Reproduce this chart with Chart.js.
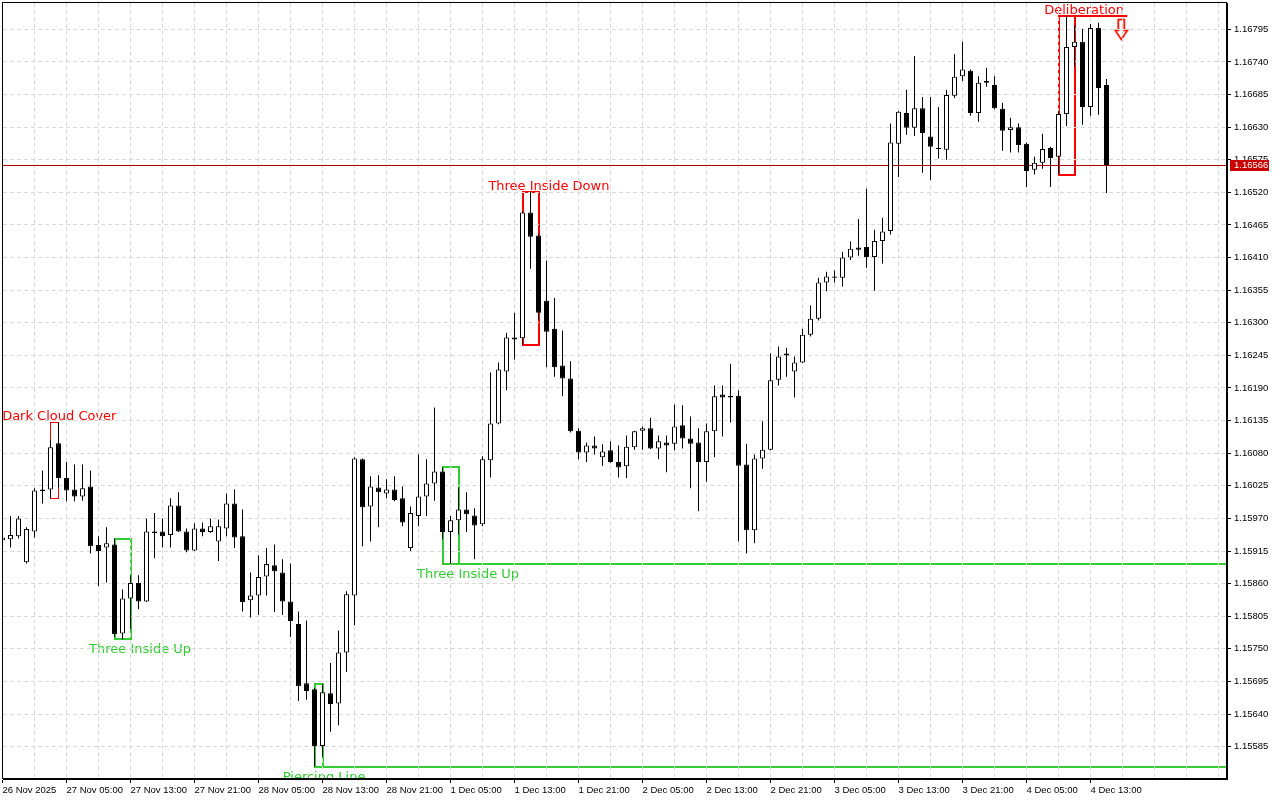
<!DOCTYPE html>
<html><head><meta charset="utf-8">
<script src="https://cdn.jsdelivr.net/npm/chart.js@4.4.1/dist/chart.umd.min.js"></script>
<style>html,body{margin:0;padding:0;background:#fff;overflow:hidden}canvas{display:block}</style>
</head><body>
<canvas id="c" width="1280" height="800"></canvas>
<script>
// ---- DATA (EURUSD H1, bar 0 = 26 Nov 21:00) ----
const opens = [1.15933,1.15935,1.15940,1.15896,1.15948,1.16019,1.16019,1.16097,1.16038,1.16019,
1.16007,1.16024,1.15925,1.15921,1.15926,1.15776,1.15835,1.15861,1.15830,1.15948,
1.15948,1.15942,1.15992,1.15948,1.15916,1.15953,1.15947,1.15931,1.15953,1.15995,
1.15940,1.15832,1.15840,1.15872,1.15891,1.15879,1.15830,1.15792,1.15692,1.15682,
1.15586,1.15675,1.15658,1.15744,1.15840,1.16070,1.15990,1.16022,1.16012,1.16019,
1.16004,1.15920,1.15974,1.16007,1.16029,1.16049,1.15947,1.15967,1.15985,1.15975,
1.15960,1.16068,1.16130,1.16218,1.16275,1.16274,1.16486,1.16447,1.16337,1.16290,
1.16228,1.16206,1.16118,1.16081,1.16093,1.16073,1.16085,1.16065,1.16058,1.16090,
1.16118,1.16122,1.16088,1.16098,1.16096,1.16127,1.16105,1.16098,1.16065,1.16117,
1.16179,1.16177,1.16177,1.16061,1.15950,1.16071,1.16086,1.16204,1.16245,1.16218,
1.16233,1.16280,1.16307,1.16368,1.16378,1.16376,1.16410,1.16427,1.16428,1.16411,
1.16438,1.16455,1.16602,1.16654,1.16629,1.16662,1.16614,1.16595,1.16592,1.16683,
1.16716,1.16725,1.16654,1.16708,1.16701,1.16661,1.16625,1.16630,1.16602,1.16558,
1.16570,1.16595,1.16580,1.16652,1.16765,1.16774,1.16664,1.16797,1.16701];
const highs = [1.15940,1.15974,1.15974,1.15955,1.16021,1.16051,1.16103,1.16132,1.16065,1.16061,
1.16061,1.16051,1.15940,1.15955,1.15936,1.15850,1.15874,1.15874,1.15970,1.15979,
1.15970,1.16004,1.16014,1.15953,1.15962,1.15963,1.15970,1.15968,1.16012,1.16019,
1.15985,1.15879,1.15908,1.15920,1.15926,1.15901,1.15894,1.15813,1.15798,1.15684,
1.15691,1.15726,1.15781,1.15847,1.16073,1.16071,1.16041,1.16043,1.16036,1.16041,
1.16024,1.15990,1.16078,1.16070,1.16157,1.16056,1.15974,1.16022,1.16014,1.15987,
1.16075,1.16216,1.16233,1.16283,1.16317,1.16488,1.16521,1.16450,1.16405,1.16342,
1.16287,1.16235,1.16122,1.16098,1.16108,1.16095,1.16100,1.16093,1.16110,1.16118,
1.16125,1.16140,1.16110,1.16110,1.16162,1.16161,1.16142,1.16122,1.16130,1.16194,
1.16194,1.16231,1.16186,1.16096,1.16078,1.16134,1.16248,1.16260,1.16258,1.16243,
1.16290,1.16329,1.16376,1.16386,1.16388,1.16420,1.16437,1.16475,1.16526,1.16457,
1.16477,1.16636,1.16657,1.16693,1.16750,1.16681,1.16681,1.16664,1.16693,1.16753,
1.16774,1.16727,1.16716,1.16730,1.16716,1.16671,1.16646,1.16636,1.16604,1.16580,
1.16619,1.16597,1.16657,1.16817,1.16802,1.16796,1.16804,1.16806,1.16711];
const lows = [1.15931,1.15921,1.15936,1.15894,1.15938,1.15995,1.16004,1.16022,1.15999,1.15999,
1.16000,1.15911,1.15856,1.15862,1.15770,1.15766,1.15783,1.15817,1.15829,1.15903,
1.15921,1.15921,1.15947,1.15913,1.15915,1.15940,1.15946,1.15898,1.15940,1.15920,
1.15813,1.15803,1.15807,1.15840,1.15812,1.15807,1.15770,1.15662,1.15664,1.15551,
1.15568,1.15610,1.15621,1.15711,1.15790,1.15923,1.15931,1.15955,1.16004,1.15999,
1.15957,1.15915,1.15957,1.15974,1.16000,1.15935,1.15893,1.15943,1.15947,1.15901,
1.15957,1.16039,1.16129,1.16186,1.16238,1.16263,1.16391,1.16305,1.16225,1.16209,
1.16176,1.16115,1.16070,1.16065,1.16078,1.16059,1.16064,1.16039,1.16038,1.16086,
1.16086,1.16087,1.16070,1.16048,1.16085,1.16088,1.16021,1.15982,1.16032,1.16073,
1.16108,1.16132,1.15931,1.15911,1.15928,1.16054,1.16085,1.16194,1.16209,1.16174,
1.16232,1.16277,1.16304,1.16353,1.16368,1.16361,1.16406,1.16413,1.16393,1.16354,
1.16400,1.16449,1.16546,1.16617,1.16615,1.16553,1.16541,1.16577,1.16575,1.16679,
1.16708,1.16649,1.16639,1.16698,1.16660,1.16590,1.16587,1.16587,1.16529,1.16550,
1.16560,1.16529,1.16550,1.16632,1.16733,1.16634,1.16649,1.16651,1.16519];
const closes = [1.15938,1.15942,1.15970,1.15952,1.16017,1.16016,1.16090,1.16038,1.16017,1.16007,
1.16021,1.15923,1.15915,1.15928,1.15775,1.15835,1.15861,1.15830,1.15948,1.15945,
1.15940,1.15992,1.15948,1.15916,1.15953,1.15947,1.15957,1.15957,1.15995,1.15938,
1.15829,1.15840,1.15871,1.15893,1.15881,1.15830,1.15797,1.15687,1.15679,1.15586,
1.15677,1.15657,1.15744,1.15842,1.16071,1.15989,1.16024,1.16014,1.16019,1.16001,
1.15963,1.15979,1.16007,1.16029,1.16049,1.15947,1.15967,1.15985,1.15977,1.15958,
1.16070,1.16130,1.16221,1.16275,1.16272,1.16486,1.16445,1.16317,1.16285,1.16225,
1.16206,1.16117,1.16081,1.16093,1.16088,1.16083,1.16065,1.16056,1.16091,1.16117,
1.16122,1.16088,1.16100,1.16093,1.16125,1.16105,1.16096,1.16065,1.16117,1.16176,
1.16174,1.16174,1.16059,1.15950,1.16071,1.16086,1.16203,1.16243,1.16248,1.16233,
1.16280,1.16307,1.16368,1.16378,1.16376,1.16410,1.16425,1.16423,1.16411,1.16438,
1.16454,1.16604,1.16656,1.16629,1.16662,1.16620,1.16597,1.16593,1.16684,1.16715,
1.16727,1.16654,1.16705,1.16705,1.16662,1.16624,1.16630,1.16600,1.16556,1.16570,
1.16593,1.16578,1.16652,1.16765,1.16774,1.16664,1.16797,1.16696,1.16566];

const xTickBars   = [0,8,16,24,32,40,48,56,64,72,80,88,96,104,112,120,128,136];
const xTickLabels = ['26 Nov 2025','27 Nov 05:00','27 Nov 13:00','27 Nov 21:00','28 Nov 05:00','28 Nov 13:00',
  '28 Nov 21:00','1 Dec 05:00','1 Dec 13:00','1 Dec 21:00','2 Dec 05:00','2 Dec 13:00','2 Dec 21:00',
  '3 Dec 05:00','3 Dec 13:00','3 Dec 21:00','4 Dec 05:00','4 Dec 13:00'];
const yTickValues = [1.15585,1.15640,1.15695,1.15750,1.15805,1.15860,1.15915,1.15970,1.16025,1.16080,
  1.16135,1.16190,1.16245,1.16300,1.16355,1.16410,1.16465,1.16520,1.16575,1.16630,1.16685,1.16740,1.16795];
const lastPrice = 1.16566;

// candlestick patterns
const patternNames  = ['Dark Cloud Cover','Three Inside Up','Piercing Line','Three Inside Up','Three Inside Down','Deliberation'];
const patternFirst  = [6, 14, 39, 55, 65, 132];
const patternLast   = [7, 16, 40, 57, 67, 134];
const patternHigh   = [1.16132, 1.15936, 1.15691, 1.16056, 1.16521, 1.16817];
const patternLow    = [1.16004, 1.15766, 1.15551, 1.15893, 1.16263, 1.16550];
const patternBull   = [false, true, true, true, false, false];

// ---- presentation ----
const RED = '#ff0000', GREEN = '#32cd32';
const patternStyle = [
  {width:1, labelBar:7.1,   extend:false},
  {width:2, labelBar:17.2,  extend:false},
  {width:2, labelBar:40.2,  extend:true},
  {width:2, labelBar:58.2,  extend:true},
  {width:2, labelBar:68.3,  extend:false},
  {width:2, labelBar:135.2, extend:false, topTo:140.6, arrowBar:139.85}
];

function hasFont(f){
  const c=document.createElement('canvas').getContext('2d');
  c.font='40px monospace'; const a=c.measureText('1.16795 Nov Dec').width;
  c.font='40px "'+f+'", monospace'; return c.measureText('1.16795 Nov Dec').width!==a;
}
const axisFont = hasFont('Liberation Sans Narrow')
  ? {family:'"Liberation Sans Narrow"', size:11}
  : {family:'"Liberation Sans", Arial, sans-serif', size:9.5};
const axisFontStr = axisFont.size+'px '+axisFont.family;

const tickLabelMap = {};
xTickBars.forEach((b,k)=>{ tickLabelMap[b]=xTickLabels[k]; });

const bodyData = opens.map((o,i)=>({x:i, y:[o, closes[i]]}));
const wickData = lows.map((l,i)=>({x:i, y:[l, highs[i]]}));
const bodyColors = opens.map((o,i)=> closes[i] >= o ? '#ffffff' : '#000000');

const snap1 = v => Math.floor(v)+0.5;

const overlay = {
  id:'overlay',
  beforeDraw(chart){
    const {ctx, chartArea:a, scales:{x,y}} = chart;
    ctx.save();
    ctx.fillStyle='#fff'; ctx.fillRect(0,0,chart.width,chart.height);
    ctx.beginPath(); ctx.rect(a.left, a.top, a.right-a.left, a.bottom-a.top); ctx.clip();
    patternNames.forEach((name,k)=>{
      const st = patternStyle[k];
      const col = patternBull[k] ? GREEN : RED;
      const w = st.width;
      const sn = w===1 ? snap1 : Math.round;
      const xl = sn(x.getPixelForValue(patternFirst[k]));
      const xr = sn(x.getPixelForValue(patternLast[k]));
      const yt = sn(y.getPixelForValue(patternHigh[k]));
      const yb = sn(y.getPixelForValue(patternLow[k]));
      ctx.strokeStyle = col; ctx.lineWidth = w; ctx.setLineDash([]);
      ctx.strokeRect(xl, yt, xr-xl, yb-yt);
      if (st.extend){
        ctx.beginPath(); ctx.moveTo(xl, yb); ctx.lineTo(a.right, yb); ctx.stroke();
      }
      if (st.topTo){
        ctx.beginPath(); ctx.moveTo(xl, yt); ctx.lineTo(x.getPixelForValue(st.topTo), yt); ctx.stroke();
      }
      // label
      ctx.font = '13px "DejaVu Sans", sans-serif';
      ctx.fillStyle = col; ctx.textAlign='center'; ctx.textBaseline='middle';
      const lx = x.getPixelForValue(st.labelBar);
      const ly = patternBull[k] ? yb + 11 : yt - 5.5;
      ctx.fillText(name, lx, ly);
      // arrow
      if (st.arrowBar !== undefined){
        const cx = x.getPixelForValue(st.arrowBar);
        const t = yt + 3.5;
        ctx.beginPath();
        ctx.moveTo(cx-3, t); ctx.lineTo(cx+3, t); ctx.lineTo(cx+3, t+11);
        ctx.lineTo(cx+6, t+11); ctx.lineTo(cx, t+20); ctx.lineTo(cx-6, t+11);
        ctx.lineTo(cx-3, t+11); ctx.closePath();
        ctx.fillStyle='#fff'; ctx.fill();
        ctx.strokeStyle='#ff6040'; ctx.lineWidth=2; ctx.stroke();
        ctx.strokeStyle='#ff0000'; ctx.lineWidth=1; ctx.stroke();
      }
    });
    ctx.restore();
  },
  beforeDatasetsDraw(chart){
    const {ctx, chartArea:a, scales:{y}} = chart;
    const py = snap1(y.getPixelForValue(lastPrice));
    ctx.save();
    ctx.strokeStyle='#b40000'; ctx.lineWidth=1;
    ctx.beginPath(); ctx.moveTo(a.left, py); ctx.lineTo(a.right, py); ctx.stroke();
    ctx.restore();
  },
  afterDraw(chart){
    const {ctx, chartArea:a, scales:{y}} = chart;
    ctx.save();
    ctx.strokeStyle='#000'; ctx.lineWidth=1;
    ctx.strokeRect(a.left-0.5, a.top-0.5, a.right-a.left, a.bottom-a.top);
    const py = Math.round(y.getPixelForValue(lastPrice));
    ctx.fillStyle='#c80000';
    ctx.fillRect(y.left+3, py-5, 39, 11);
    ctx.fillStyle='#fff'; ctx.font=axisFontStr; ctx.textAlign='left'; ctx.textBaseline='middle';
    ctx.fillText(lastPrice.toFixed(5), y.left+7, py+0.5);
    ctx.restore();
  }
};

const GRID = '#d9d9d9';
new Chart(document.getElementById('c'), {
  type:'bar',
  data:{ datasets:[
    {label:'body', data:bodyData, backgroundColor:bodyColors, borderColor:'#000', borderWidth:1,
     borderSkipped:false, barThickness:5, grouped:false, order:0, minBarLength:1, inflateAmount:0},
    {label:'wick', data:wickData, backgroundColor:'#000', borderWidth:0, barThickness:1,
     grouped:false, order:1, inflateAmount:0, minBarLength:1}
  ]},
  options:{
    responsive:false, animation:false, devicePixelRatio:1, events:[],
    layout:{padding:{left:3, top:3, right:0, bottom:0}},
    plugins:{legend:{display:false}, tooltip:{enabled:false}},
    scales:{
      x:{ type:'linear', position:'bottom', min:0.0625, max:153.0625, offset:false,
        grid:{offset:false, color:GRID, lineWidth:1, drawTicks:true, tickLength:4, tickWidth:1,
          tickColor: c => (c.tick && tickLabelMap[c.tick.value]!==undefined) ? '#000' : 'rgba(0,0,0,0)'},
        border:{display:true, color:'#000', width:1, dash:[4,3]},
        afterBuildTicks: s => { const t=[]; for (let b=0;b<=152;b+=4) t.push({value:b}); s.ticks=t; },
        afterFit: s => { s.height=21; s.paddingLeft=0; s.paddingRight=0; },
        ticks:{ autoSkip:false, maxRotation:0, minRotation:0, align:'start', padding:2, color:'#000',
          font:{family:axisFont.family, size:axisFont.size},
          callback: v => tickLabelMap[v] !== undefined ? tickLabelMap[v] : '' }
      },
      y:{ type:'linear', position:'right', min:1.155305, max:1.1683936,
        grid:{color:GRID, lineWidth:1, drawTicks:true, tickLength:4, tickWidth:1, tickColor:'#000'},
        border:{display:true, color:'#000', width:1, dash:[4,3]},
        afterBuildTicks: s => { s.ticks = yTickValues.map(v=>({value:v})); },
        afterFit: s => { s.width=53; s.paddingTop=0; s.paddingBottom=0; },
        ticks:{ autoSkip:false, padding:3, color:'#000', font:{family:axisFont.family, size:axisFont.size},
          callback: v => v.toFixed(5) }
      }
    }
  },
  plugins:[overlay]
});
</script>
</body></html>
